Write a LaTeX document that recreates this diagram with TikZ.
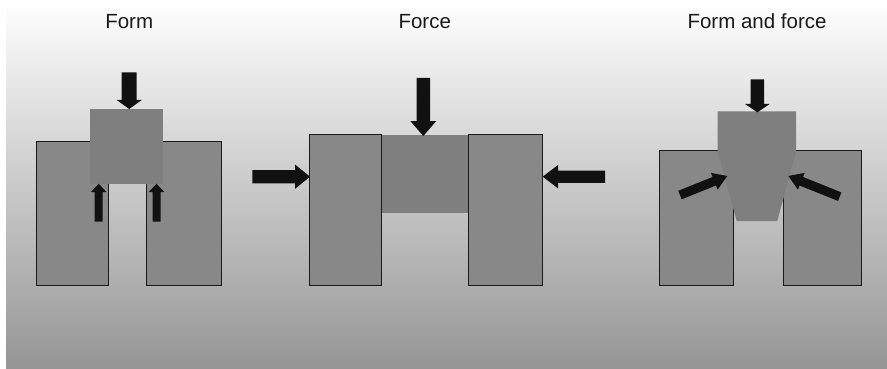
\documentclass[tikz,border=0pt]{standalone}
\usepackage{fontspec}
\setmainfont{Liberation Sans}
\definecolor{pillar}{HTML}{888888}
\definecolor{blockfill}{HTML}{7F7F7F}
\definecolor{arrowfill}{HTML}{111111}
\definecolor{edge}{HTML}{1A1A1A}
\definecolor{bgbottom}{HTML}{959595}
\tikzset{
  pillarbox/.style={fill=pillar, draw=edge, line width=1pt},
  blockbox/.style={fill=blockfill},
  forcearrow/.style={fill=arrowfill},
  caption/.style={font=\fontsize{20.5}{24}\selectfont, text=edge, anchor=base, inner sep=0pt},
}
% block arrow: tip x, tip y, direction angle, total length,
% half shaft width, half head width, head length
\newcommand\blockarrow[7]{%
  \fill[forcearrow, shift={(#1,#2)}, rotate=#3]
    (0,0) -- (-#7,#6) -- (-#7,#5) -- (-#4,#5) -- (-#4,-#5)
    -- (-#7,-#5) -- (-#7,-#6) -- cycle;}
\begin{document}
\begin{tikzpicture}[x=1pt, y=-1pt]
\useasboundingbox (0,0) rectangle (887,369);
% backdrop
\shade[top color=white, bottom color=bgbottom] (6,0) rectangle (887,369);

% captions
\node[caption] (tform) at (129.2,28.3) {Form};
\node[caption] (tforce) at (424.7,28.3) {Force};
\node[caption] (tboth) at (757,28.3) {Form and force};

% ---- Form: block seated in the slot ----
\draw[pillarbox] (36.7,141.7) rectangle (108,285.7);
\draw[pillarbox] (146.7,141.7) rectangle (221.7,285.7);
\fill[blockbox] (90,109) rectangle (162.7,184.3);
\blockarrow{129.2}{109}{-90}{36.7}{7.5}{12.5}{9}
\blockarrow{98.7}{183.7}{90}{38}{4}{7.7}{8.3}
\blockarrow{156.5}{183.7}{90}{38}{4}{7.7}{8.3}

% ---- Force: block clamped between the jaws ----
\draw[pillarbox] (309.3,134.3) rectangle (381.7,285.7);
\draw[pillarbox] (468,134.3) rectangle (542.7,285.7);
\fill[blockbox] (382.2,135) rectangle (467.5,212.7);
\blockarrow{423.3}{136}{-90}{58}{6.7}{13}{15}
\blockarrow{310}{176.7}{0}{57.7}{6.7}{12.2}{15}
\blockarrow{542.7}{176.7}{180}{62.3}{6.2}{11.7}{15.3}

% ---- Form and force: tapered block ----
\draw[pillarbox] (659,150.3) rectangle (733.7,285.3);
\draw[pillarbox] (783.3,150.3) rectangle (861.7,285.3);
\fill[blockbox] (717.7,111.3) -- (796,111.3) -- (796,152) -- (777.3,221)
  -- (736.7,221) -- (717.7,152) -- cycle;
\blockarrow{757.4}{112.3}{-90}{33}{6.7}{12.3}{8.3}
\blockarrow{727.3}{176}{21.9}{51}{4.6}{9}{14}
\blockarrow{788.3}{176}{158.1}{55.4}{4.6}{9}{14}
\end{tikzpicture}
\end{document}
